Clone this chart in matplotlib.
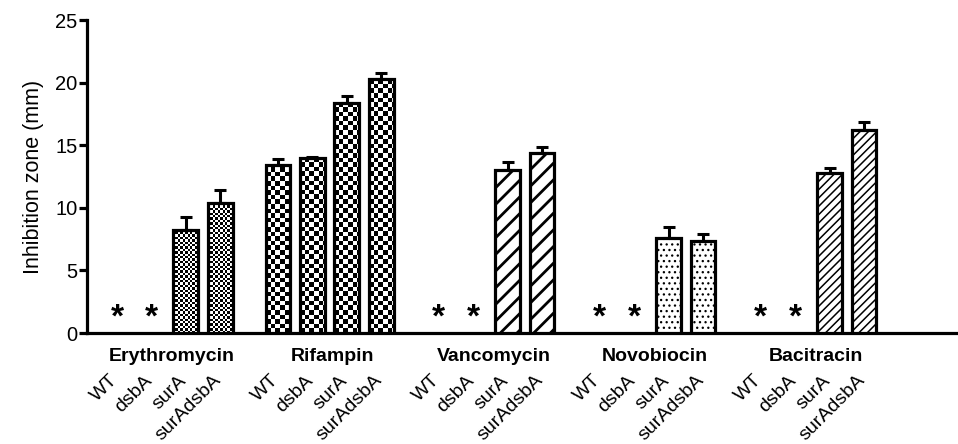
import numpy as np
import matplotlib
matplotlib.use("Agg")
import matplotlib.pyplot as plt

plt.rcParams['font.family'] = ['Liberation Sans', 'DejaVu Sans']

antibiotics = ["Erythromycin", "Rifampin", "Vancomycin", "Novobiocin", "Bacitracin"]
strains = ["WT", "dsbA", "surA", "surAdsbA"]

# inhibition zone (mm); None = no zone (marked with *)
zone = [
    [None, None, 8.2, 10.35],
    [13.4, 14.0, 18.4, 20.3],
    [None, None, 13.0, 14.35],
    [None, None, 7.6, 7.35],
    [None, None, 12.75, 16.25],
]
zone_err = [
    [0, 0, 1.05, 1.1],
    [0.5, 0.05, 0.5, 0.5],
    [0, 0, 0.65, 0.5],
    [0, 0, 0.9, 0.55],
    [0, 0, 0.45, 0.6],
]

# fill style per antibiotic
fills = [("checker", 2.4), ("checker", 4.6), ("hatch", "//"), ("hatch", "..."), ("hatch", "////")]
hatch_lw = {"//": 2.0, "...": 0.9, "////": 1.1}

group_step = 4.68
bar_w = 0.72
xlim = (-0.87, 24.45)
ylim = (0, 25)

W, H = 958, 444
fig = plt.figure(figsize=(W / 100, H / 100), dpi=100)
ax_rect = [87 / W, 1 - 333 / H, 1 - 87 / W, (333 - 20) / H]
ax = fig.add_axes(ax_rect)

ax_w_px = ax_rect[2] * W
ax_h_px = ax_rect[3] * H
dx_px = (xlim[1] - xlim[0]) / ax_w_px
dy_px = (ylim[1] - ylim[0]) / ax_h_px

edge_lw = 2.3

for g, name in enumerate(antibiotics):
    xs = g * group_step + np.arange(len(strains))
    kind, spec = fills[g]
    for i, v in enumerate(zone[g]):
        x = xs[i]
        if v is None:
            ax.text(x, 1.2, "*", ha="center", va="center", fontsize=24,
                    fontweight="bold")
            continue
        # error bar (upper only)
        ax.errorbar(x, v, yerr=[[0], [zone_err[g][i]]], fmt="none", ecolor="black",
                    elinewidth=2.2, capsize=4.5, capthick=2.2, zorder=1)
        if kind == "checker":
            face = ax.bar(x, v, width=bar_w, color="white", edgecolor="none", zorder=2)[0]
            cx = spec * dx_px
            cy = spec * dy_px
            nx = int(np.ceil(bar_w / cx)) + 1
            ny = int(np.ceil(v / cy)) + 1
            jj, ii = np.meshgrid(np.arange(nx), np.arange(ny))
            board = (ii + jj) % 2
            x0 = x - bar_w / 2
            im = ax.imshow(board, cmap="gray", interpolation="nearest", origin="lower",
                           extent=(x0, x0 + nx * cx, 0, ny * cy), aspect="auto", zorder=3)
            im.set_clip_path(face)
            ax.bar(x, v, width=bar_w, color="none", edgecolor="black",
                   linewidth=edge_lw, zorder=4)
        else:
            b = ax.bar(x, v, width=bar_w, color="white", edgecolor="black",
                       linewidth=edge_lw, hatch=spec, zorder=4)[0]
            if hasattr(b, "set_hatch_linewidth"):
                b.set_hatch_linewidth(hatch_lw[spec])
    # antibiotic name under the group
    ax.text(xs.mean() + 0.1, -1.9, name, ha="center", va="center", fontsize=14,
            fontweight="bold", clip_on=False)
    for i, s in enumerate(strains):
        ax.text(xs[i] + 0.12, -3.1, s, rotation=45, ha="right", va="top",
                fontsize=14, clip_on=False)

ax.set_xlim(*xlim)
ax.set_ylim(*ylim)
ax.set_xticks([])
ax.set_yticks([0, 5, 10, 15, 20, 25])
ax.tick_params(axis="y", direction="out", length=6, width=2.3, labelsize=14.5, pad=1)
ax.set_ylabel("Inhibition zone (mm)", fontsize=15.5, labelpad=8)
for side in ["top", "right"]:
    ax.spines[side].set_visible(False)
for side in ["left", "bottom"]:
    ax.spines[side].set_linewidth(2.3)

fig.savefig("out.png", dpi=100)
